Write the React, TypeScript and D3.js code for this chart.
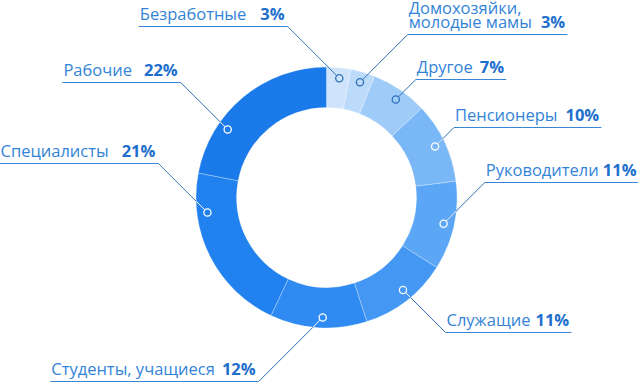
import React, { useEffect, useRef } from "react";
import * as d3 from "d3";

// ---- data ----
const categories = [
  "Безработные",
  "Домохозяйки, молодые мамы",
  "Другое",
  "Пенсионеры",
  "Руководители",
  "Служащие",
  "Студенты, учащиеся",
  "Специалисты",
  "Рабочие",
];
const nameLines = [
  ["Безработные"],
  ["Домохозяйки,", "молодые мамы"],
  ["Другое"],
  ["Пенсионеры"],
  ["Руководители"],
  ["Служащие"],
  ["Студенты, учащиеся"],
  ["Специалисты"],
  ["Рабочие"],
];
const values = [3, 3, 7, 10, 11, 11, 12, 21, 22];
// where along the ring (in %) each label's marker sits
const anchorPct = [1.7, 4.5, 9.8, 18, 28.5, 39, 50.5, 73, 84.6];

// ---- layout / style ----
const colors = [
  "#cfe4fb",
  "#bcdafa",
  "#9fcbf9",
  "#79b7f7",
  "#5ba6f5",
  "#4498f3",
  "#2f8bf1",
  "#2081ef",
  "#1b7ae9",
];
const labelSide = [-1, 1, 1, 1, 1, 1, -1, -1, -1];
const underlineY = [26.5, 34.5, 79.5, 127.5, 182.5, 332.5, 381.5, 163.5, 82.5];
const nameGap = [14, 9, 7, 8, 4, 5, 7, 13, 12];

const W = 638;
const H = 383;
const cx = 326.5;
const cy = 197.5;
const outerR = 130.5;
const innerR = 90;
const markerR = 120;
const fontSize = 16.5;

export default function App() {
  const ref = useRef<SVGSVGElement>(null);

  useEffect(() => {
    const svg = d3.select(ref.current);
    svg.selectAll("*").remove();

    const angle = d3.scaleLinear().domain([0, d3.sum(values)]).range([0, 2 * Math.PI]);
    const pie = d3
      .pie<number>()
      .sort(null)
      .value((d) => d)
      .startAngle(0)
      .endAngle(2 * Math.PI);
    const arcs = pie(values);
    const arc = d3.arc<d3.PieArcDatum<number>>().innerRadius(innerR).outerRadius(outerR);

    const g = svg.append("g").attr("transform", `translate(${cx},${cy})`);
    g.selectAll("path.seg")
      .data(arcs)
      .join("path")
      .attr("class", "seg")
      .attr("d", arc as any)
      .attr("fill", (_d, i) => colors[i])
      .attr("stroke", "rgba(255,255,255,0.35)")
      .attr("stroke-width", 0.8);

    const lineColor = "#2f70b8";
    const textColor = "#3384d8";
    const pctColor = "#1e6fcd";

    categories.forEach((_c, i) => {
      const a = angle(anchorPct[i]);
      const mx = cx + markerR * Math.sin(a);
      const my = cy - markerR * Math.cos(a);
      const uy = underlineY[i];
      const dy = uy - my;
      const ex = mx + labelSide[i] * Math.abs(dy);

      // leader line
      svg
        .append("line")
        .attr("x1", mx)
        .attr("y1", my)
        .attr("x2", ex)
        .attr("y2", uy)
        .attr("stroke", lineColor)
        .attr("stroke-width", 1);

      const dark = i >= 3;
      if (dark) {
        // white part inside the ring
        const len = Math.hypot(ex - mx, uy - my);
        const ux = (ex - mx) / len;
        const uyd = (uy - my) / len;
        const px = mx - cx;
        const py = my - cy;
        const b = 2 * (px * ux + py * uyd);
        const c = px * px + py * py - outerR * outerR;
        const t = (-b + Math.sqrt(b * b - 4 * c)) / 2;
        svg
          .append("line")
          .attr("x1", mx)
          .attr("y1", my)
          .attr("x2", mx + ux * t)
          .attr("y2", my + uyd * t)
          .attr("stroke", "#ffffff")
          .attr("stroke-width", 1);
      }

      svg
        .append("circle")
        .attr("cx", mx)
        .attr("cy", my)
        .attr("r", 3.6)
        .attr("fill", colors[i])
        .attr("stroke", dark ? "#ffffff" : lineColor)
        .attr("stroke-width", 1.3);

      // label (one text element, one tspan per line)
      const lines = nameLines[i];
      const side = labelSide[i];
      const tx = side > 0 ? ex + 1 : ex - 3;
      const anchor = side > 0 ? "start" : "end";
      const baseY = uy - 6.5;
      const t = svg
        .append("text")
        .attr("text-anchor", anchor)
        .attr("font-family", "'Open Sans', sans-serif")
        .attr("font-size", fontSize)
        .attr("fill", textColor);
      lines.forEach((ln, k) => {
        const y = baseY - (lines.length - 1 - k) * 14;
        t.append("tspan").attr("x", tx).attr("y", y).text(ln);
      });
      t.append("tspan")
        .attr("dx", nameGap[i])
        .attr("font-weight", 700)
        .attr("fill", pctColor)
        .text(`${values[i]}%`);

      const bb = (t.node() as SVGTextElement).getBBox();
      const x1 = side > 0 ? ex : bb.x - 1;
      const x2 = side > 0 ? bb.x + bb.width + 2 : ex;
      svg
        .append("line")
        .attr("x1", x1)
        .attr("x2", x2)
        .attr("y1", uy)
        .attr("y2", uy)
        .attr("stroke", "#3a86d6")
        .attr("stroke-width", 1);
    });
  }, []);

  return (
    <svg
      ref={ref}
      width={W}
      height={H}
      style={{ position: "fixed", left: 0, top: 0, background: "#fff" }}
    />
  );
}
